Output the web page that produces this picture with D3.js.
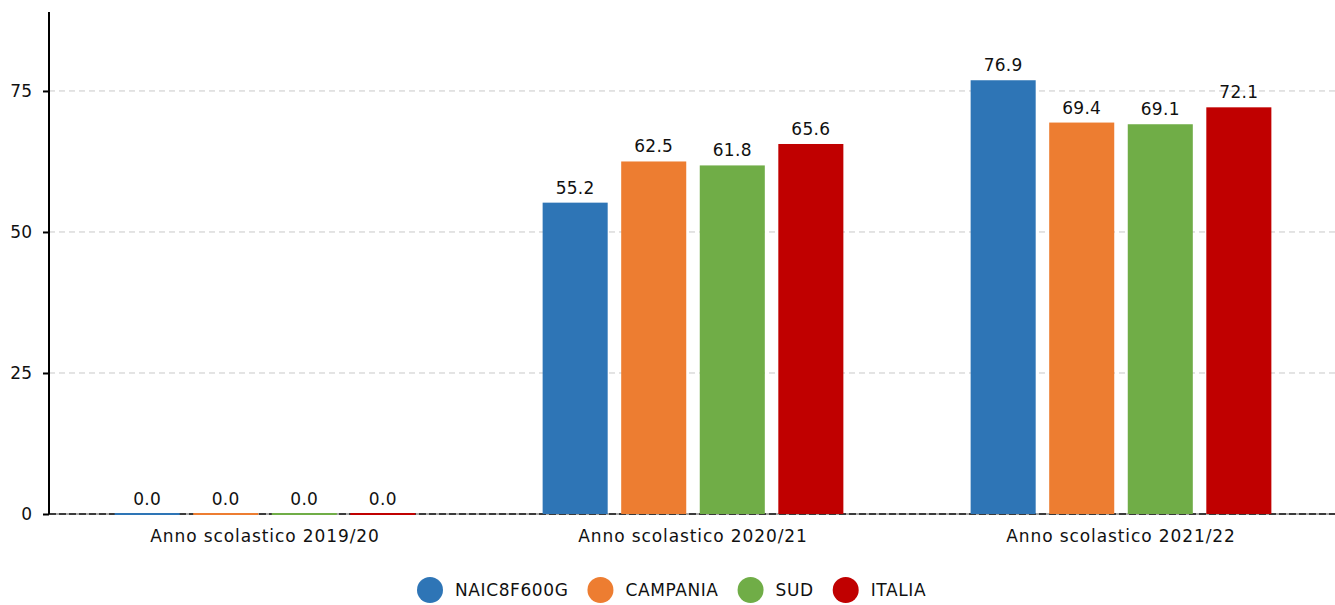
<!DOCTYPE html>
<html><head><meta charset="utf-8">
<script src="https://cdn.jsdelivr.net/npm/d3@7"></script>
<style>body{margin:0;background:#fff;} text{font-family:"DejaVu Sans",sans-serif;}</style>
</head><body><svg id="c" width="1335" height="605"></svg>
<script>
const categories = ["Anno scolastico 2019/20","Anno scolastico 2020/21","Anno scolastico 2021/22"];
const seriesNames = ["NAIC8F600G","CAMPANIA","SUD","ITALIA"];
const colors = ["#2E75B6","#ED7D31","#70AD47","#C00000"];
const valNAIC = [0.0, 55.2, 76.9];
const valCampania = [0.0, 62.5, 69.4];
const valSud = [0.0, 61.8, 69.1];
const valItalia = [0.0, 65.6, 72.1];
const yTicks = [0, 25, 50, 75];
const seriesValues = [valNAIC, valCampania, valSud, valItalia];

(function(){
const svg = d3.select("#c");
const mLeft = 49, mRight = 1335, mTop = 12, mBottom = 514;
const x0 = d3.scaleBand().domain(categories).range([mLeft+2, mRight]).padding(0);
const x1 = d3.scaleBand().domain(seriesNames).range([0, x0.bandwidth()]).paddingInner(0.172).paddingOuter(0.81);
const y = d3.scaleLinear().domain([0, 89]).range([mBottom, mTop]);

svg.append("g").selectAll("line").data(yTicks.filter(d=>d>0)).join("line")
  .attr("x1", mLeft).attr("x2", mRight).attr("y1", d=>y(d)).attr("y2", d=>y(d))
  .attr("stroke", "#c8c8c8").attr("stroke-width", 1).attr("stroke-dasharray", "6,4");

svg.append("line").attr("x1", mLeft).attr("x2", mRight).attr("y1", mBottom).attr("y2", mBottom)
  .attr("stroke", "#aaa").attr("stroke-width", 2);
svg.append("line").attr("x1", mLeft).attr("x2", mRight).attr("y1", mBottom).attr("y2", mBottom)
  .attr("stroke", "#3a3a3a").attr("stroke-width", 2).attr("stroke-dasharray", "7,3");

categories.forEach((c, ci) => {
  seriesNames.forEach((s, si) => {
    const v = seriesValues[si][ci];
    const h = Math.max(mBottom - y(v), 2);
    svg.append("rect").attr("x", x0(c) + x1(s)).attr("y", mBottom - h + (v===0?1:0))
      .attr("width", x1.bandwidth()).attr("height", h).attr("fill", colors[si]);
    svg.append("text").attr("x", x0(c) + x1(s) + x1.bandwidth()/2).attr("y", y(v) - 9)
      .attr("text-anchor", "middle").attr("font-size", 17).style("letter-spacing", "0.3px")
      .attr("fill", "#111").text(v.toFixed(1));
  });
});

const yAxis = d3.axisLeft(y).tickValues(yTicks).tickSize(6).tickPadding(11);
const ga = svg.append("g").attr("transform", `translate(${mLeft},0)`).call(yAxis);
ga.select(".domain").attr("stroke", "#000").attr("stroke-width", 2).attr("d", `M0,${mTop}V${mBottom}`);
ga.selectAll(".tick line").attr("stroke", "#000").attr("stroke-width", 2);
ga.selectAll(".tick text").attr("font-size", 17).attr("fill", "#111").style("font-family", "DejaVu Sans");

const xAxis = d3.axisBottom(x0).tickSize(0).tickPadding(16);
const gx = svg.append("g").attr("transform", `translate(0,${mBottom})`).call(xAxis);
gx.select(".domain").remove();
gx.selectAll(".tick text").attr("font-size", 17).attr("fill", "#111")
  .style("font-family", "DejaVu Sans").style("letter-spacing", "0.9px");

const lg = svg.append("g");
let cx = 430;
seriesNames.forEach((s, i) => {
  lg.append("circle").attr("cx", cx).attr("cy", 590).attr("r", 13).attr("fill", colors[i]);
  const t = lg.append("text").attr("x", cx + 25).attr("y", 596).attr("font-size", 17)
    .style("letter-spacing", "0.6px").attr("fill", "#111").text(s);
  const w = t.node().getComputedTextLength();
  cx = cx + 25 + w + 19 + 13;
});
})();
</script></body></html>
